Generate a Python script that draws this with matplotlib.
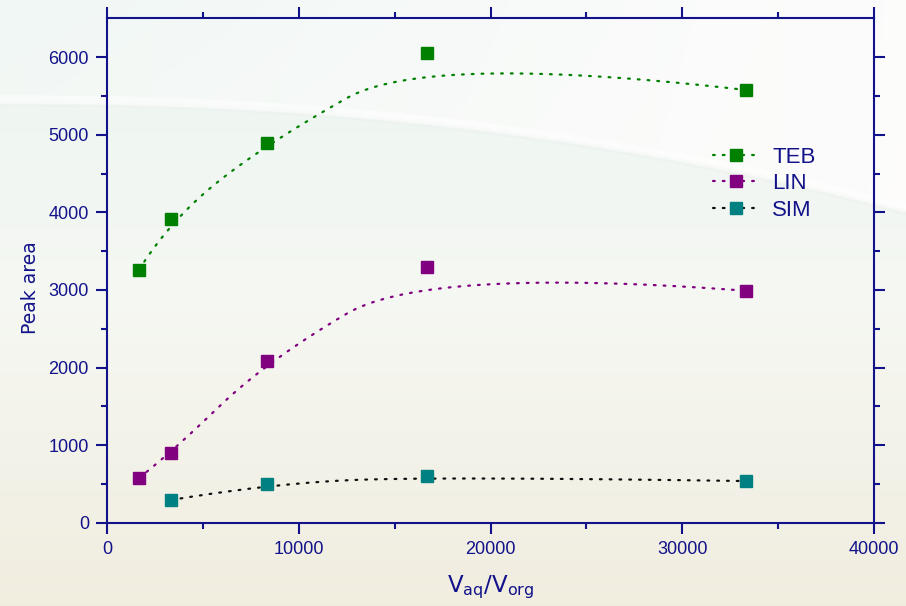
import numpy as np
import matplotlib.pyplot as plt

# volume ratio and peak areas
ratio = [1667, 3333, 8333, 16667, 33333]
teb_area = [3260, 3915, 4890, 6050, 5575]
lin_area = [580, 900, 2090, 3300, 2990]
sim_ratio = [3333, 8333, 16667, 33333]
sim_area = [296, 500, 600, 540]

navy = '#12128a'
series = [
    ('TEB', ratio, teb_area, '#008000', '#008000'),
    ('LIN', ratio, lin_area, '#800080', '#800080'),
    ('SIM', sim_ratio, sim_area, '#008080', '#101010'),
]
dots = (0, (0.8, 3.6))


def bspline(xs, ys, k=2, n=400):
    """Clamped B-spline using the points as control points."""
    P = np.column_stack([xs, ys]).astype(float)
    m = len(P)
    k = min(k, m - 1)
    t = np.concatenate([np.zeros(k), np.linspace(0, 1, m - k + 1), np.ones(k)])
    u = np.linspace(0, 1, n)
    N = np.zeros((n, len(t) - 1))
    for i in range(len(t) - 1):
        N[:, i] = (t[i] <= u) & (u < t[i + 1])
    N[-1, :] = 0
    N[-1, m - 1] = 1
    for d in range(1, k + 1):
        Nn = np.zeros((n, len(t) - 1 - d))
        for i in range(len(t) - 1 - d):
            a = t[i + d] - t[i]
            b = t[i + d + 1] - t[i + 1]
            if a > 0:
                Nn[:, i] += (u - t[i]) / a * N[:, i]
            if b > 0:
                Nn[:, i] += (t[i + d + 1] - u) / b * N[:, i + 1]
        N = Nn
    C = N @ P
    return C[:, 0], C[:, 1]


fig = plt.figure(figsize=(9.06, 6.06), dpi=100)

# soft backdrop: vertical tint, whiter above the streak on the right
H, W = 303, 453
yy, xx = np.mgrid[0:1:H * 1j, 0:1:W * 1j]
top = np.array([0.925, 0.963, 0.950])
mid = np.array([0.962, 0.970, 0.950])
bot = np.array([0.945, 0.930, 0.875])
f = yy[..., None]
img = np.where(f < 0.5, top + (mid - top) * (f / 0.5), mid + (bot - mid) * ((f - 0.5) / 0.5))
streak = 0.165 + 0.18 * xx ** 2.2
above = (yy < streak)[..., None]
w = (0.25 + 0.7 * xx)[..., None] * above
img = img * (1 - w) + np.array([0.995, 0.99, 0.99]) * w

bg = fig.add_axes([0, 0, 1, 1], zorder=-10)
bg.set_axis_off()
bg.imshow(img, aspect='auto', extent=[0, 1, 0, 1], origin='upper', interpolation='bilinear')
sx = np.linspace(0, 1, 200)
sy = 1 - (0.165 + 0.18 * sx ** 2.2)
bg.plot(sx, sy, color='white', lw=7, alpha=0.5, solid_capstyle='butt')
bg.plot(sx, sy - 0.008, color='#e6ebe4', lw=2, alpha=0.3)
bg.set_xlim(0, 1)
bg.set_ylim(0, 1)

ax = fig.add_axes([0.1181, 0.137, 0.8466, 0.833])
ax.patch.set_alpha(0)

for name, xs, ys, mcol, lcol in series:
    cx, cy = bspline(xs, ys)
    ax.plot(cx, cy, color=lcol, lw=1.6, linestyle=dots, dash_capstyle='round')
    ax.plot(xs, ys, 's', color=mcol, ms=8, linestyle='none')
    # legend proxy: dotted line through a square marker
    ax.plot([], [], color=lcol, lw=1.6, linestyle=dots, dash_capstyle='round',
            marker='s', ms=8, mfc=mcol, mec=mcol, label=name)

ax.set_xlim(0, 40000)
ax.set_ylim(0, 6500)
ax.set_xticks(range(0, 40001, 10000))
ax.set_xticks(range(5000, 40000, 10000), minor=True)
ax.set_yticks(range(0, 6001, 1000))
ax.set_yticks(range(500, 6500, 1000), minor=True)

for side in ['left', 'right', 'top', 'bottom']:
    ax.spines[side].set_color(navy)
    ax.spines[side].set_linewidth(1.5)
ax.tick_params(which='both', direction='out', color=navy, width=1.5,
               top=True, right=True, labelcolor=navy, labelsize=13, pad=5)
ax.tick_params(which='major', length=8)
ax.tick_params(which='minor', length=4)
for lab in ax.get_xticklabels() + ax.get_yticklabels():
    lab.set_fontfamily('Liberation Sans')

ax.set_ylabel('Peak area', color=navy, fontsize=13.5)
ax.yaxis.set_label_coords(-0.088, 0.467)
ax.set_xlabel(r'$\mathregular{V_{aq}/V_{org}}$', color=navy, fontsize=16.5, labelpad=11)

leg = ax.legend(loc='upper right', bbox_to_anchor=(0.95, 0.785), frameon=False,
                prop={'family': 'Liberation Sans', 'size': 16}, handlelength=2.0,
                labelspacing=0.25, handletextpad=0.65)
for t in leg.get_texts():
    t.set_color(navy)

fig.savefig('out.png', dpi=100)
